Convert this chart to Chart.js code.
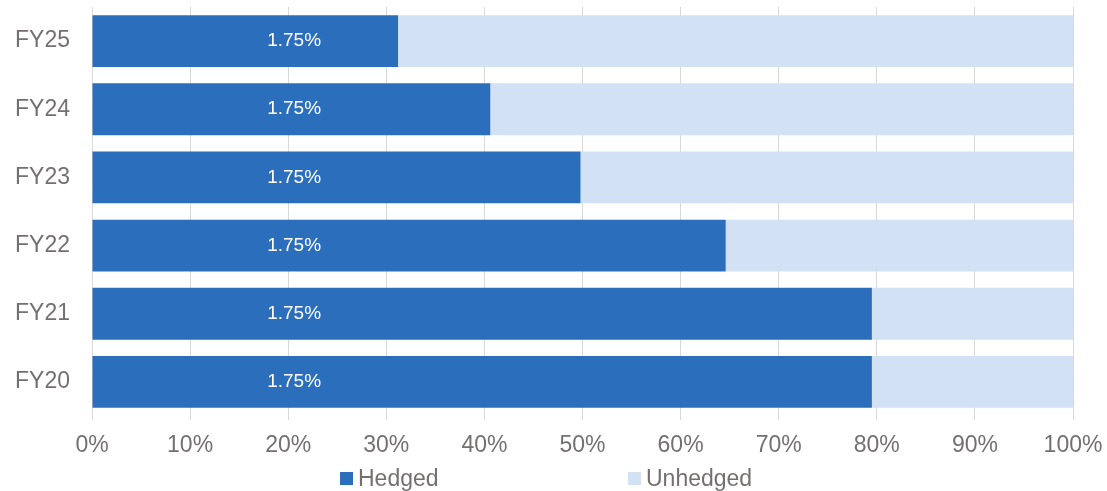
<!DOCTYPE html>
<html>
<head>
<meta charset="utf-8">
<script src="https://cdn.jsdelivr.net/npm/chart.js@4.4.1/dist/chart.umd.min.js"></script>
<style>
    html, body { margin: 0; padding: 0; background: #fff; }
    #wrap { position: relative; width: 1107px; height: 491px; }
    .leyenda { position: absolute; top: 466px; font: 23px "Liberation Sans", Arial, sans-serif; color: #757070; line-height: 24px; }
    .leyenda span.caja { display: inline-block; width: 13px; height: 13px; margin-right: 5px; vertical-align: 1px; }
</style>
</head>
<body>
<div id="wrap">
    <canvas id="graficoCobertura" width="1107" height="491"></canvas>
    <div class="leyenda" style="left:340px"><span class="caja" style="background:#2B6FBC"></span>Hedged</div>
    <div class="leyenda" style="left:628px"><span class="caja" style="background:#D2E1F3"></span>Unhedged</div>
</div>
<script>
let anios = ["FY25", "FY24", "FY23", "FY22", "FY21", "FY20"];
let cubierto = [31.2, 40.6, 49.8, 64.6, 79.5, 79.5];
let descubierto = [68.8, 59.4, 50.2, 35.4, 20.5, 20.5];
let etiquetas = ["1.75%", "1.75%", "1.75%", "1.75%", "1.75%", "1.75%"];
let ticksX = ["0%", "10%", "20%", "30%", "40%", "50%", "60%", "70%", "80%", "90%", "100%"];

let fuente = "'Liberation Sans', Arial, sans-serif";

// etiquetas blancas dentro de la barra azul, en una x fija como en el original
const pluginEtiquetas = {
    id: "etiquetas",
    afterDatasetsDraw(chart) {
        let ctx = chart.ctx;
        let meta = chart.getDatasetMeta(0);
        let x = chart.scales.x.getPixelForValue(20.6);
        ctx.save();
        ctx.fillStyle = "#fff";
        ctx.font = "19px " + fuente;
        ctx.textAlign = "center";
        ctx.textBaseline = "middle";
        meta.data.forEach(function (barra, i) {
            ctx.fillText(etiquetas[i], x, barra.y);
        });
        ctx.restore();
    }
};

new Chart(document.getElementById("graficoCobertura"), {
    type: "bar",
    data: {
        labels: anios,
        datasets: [
            { label: "Hedged", data: cubierto, backgroundColor: "#2B6FBC" },
            { label: "Unhedged", data: descubierto, backgroundColor: "#D2E1F3" }
        ]
    },
    options: {
        indexAxis: "y",
        responsive: false,
        animation: false,
        barPercentage: 0.76,
        categoryPercentage: 1,
        layout: { padding: { top: 7, right: 34, bottom: 0, left: 0 } },
        scales: {
            x: {
                stacked: true,
                min: 0,
                max: 100,
                afterFit: function (s) {
                    s.height = 75;
                    s.paddingLeft = 0;
                    s.paddingRight = 0;
                },
                grid: { color: "#D9D9D9", tickLength: 4, drawTicks: true },
                border: { display: false },
                ticks: {
                    stepSize: 10,
                    padding: 12,
                    color: "#757070",
                    font: { size: 23, family: fuente },
                    callback: function (v, i) { return ticksX[i]; }
                }
            },
            y: {
                stacked: true,
                afterFit: function (s) {
                    s.width = 92;
                    s.paddingTop = 0;
                    s.paddingBottom = 0;
                },
                grid: { display: false, drawTicks: false },
                border: { display: false },
                ticks: {
                    padding: 22,
                    color: "#757070",
                    font: { size: 23, family: fuente }
                }
            }
        },
        plugins: {
            legend: { display: false },
            tooltip: { enabled: false }
        }
    },
    plugins: [pluginEtiquetas]
});
</script>
</body>
</html>
